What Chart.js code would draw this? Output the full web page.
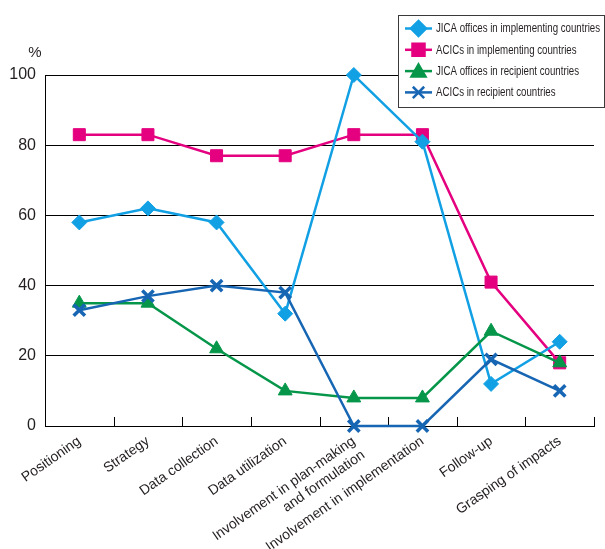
<!DOCTYPE html>
<html>
<head>
<meta charset="utf-8">
<script src="https://cdn.jsdelivr.net/npm/chart.js@4/dist/chart.umd.min.js"></script>
<style>
  html, body { margin: 0; padding: 0; background: #ffffff; }
  #wrap { width: 605px; height: 549px; position: relative; }
</style>
</head>
<body>
<div id="wrap"><canvas id="c" width="605" height="549"></canvas></div>
<script>
// Survey items along the horizontal axis
const categories = [
  'Positioning',
  'Strategy',
  'Data collection',
  'Data utilization',
  ['Involvement in plan-making', 'and formulation'],
  'Involvement in implementation',
  'Follow-up',
  'Grasping of impacts'
];

// Share of respondents (%) per group
const jicaImplementing = [58, 62, 58, 32, 100, 81, 12, 24];
const acicImplementing = [83, 83, 77, 77, 83, 83, 41, 18];
const jicaRecipient    = [35, 35, 22, 10, 8, 8, 27, 18];
const acicRecipient    = [33, 37, 40, 38, 0, 0, 19, 10];

const seriesNames = [
  'JICA offices in implementing countries',
  'ACICs in implementing countries',
  'JICA offices in recipient countries',
  'ACICs in recipient countries'
];

const yTicks = [0, 20, 40, 60, 80, 100];

const TEXT = '#231F20';
const FONT = '"Liberation Sans", Arial, Helvetica, sans-serif';

// Short inward tick marks on the category axis, at the category boundaries
const innerTicks = {
  id: 'innerTicks',
  beforeDatasetsDraw(chart) {
    const xs = chart.scales.x;
    const ctx = chart.ctx;
    const bottom = chart.chartArea.bottom;
    ctx.save();
    ctx.strokeStyle = '#000';
    ctx.lineWidth = 1;
    for (let i = 0; i <= categories.length; i++) {
      const x = Math.round(xs.getPixelForValue(i - 0.5)) + 0.5;
      ctx.beginPath();
      ctx.moveTo(x, bottom);
      ctx.lineTo(x, bottom - 9);
      ctx.stroke();
    }
    ctx.restore();
  }
};

// Unit label above the value axis
const unitLabel = {
  id: 'unitLabel',
  afterDraw(chart) {
    const ctx = chart.ctx;
    const ys = chart.scales.y;
    ctx.save();
    ctx.fillStyle = TEXT;
    ctx.font = '15px ' + FONT;
    ctx.textAlign = 'center';
    ctx.textBaseline = 'middle';
    ctx.fillText('%', ys.right - 10, ys.getPixelForValue(100) - 22);
    ctx.restore();
  }
};

// Boxed legend with line + marker samples, drawn over the plot's top right
const boxLegend = {
  id: 'boxLegend',
  afterDraw(chart) {
    const ctx = chart.ctx;
    const bx = 398.5, by = 15.5, bw = 206, bh = 92;
    ctx.save();
    ctx.fillStyle = '#fff';
    ctx.fillRect(bx, by, bw, bh);
    ctx.strokeStyle = '#3a3a3a';
    ctx.lineWidth = 1;
    ctx.strokeRect(bx, by, bw, bh);
    chart.data.datasets.forEach((ds, i) => {
      const y = 28.5 + i * 21.3;
      ctx.strokeStyle = ds.borderColor;
      ctx.lineWidth = 2.5;
      ctx.beginPath();
      ctx.moveTo(405, y);
      ctx.lineTo(432, y);
      ctx.stroke();
      ctx.fillStyle = ds.pointBackgroundColor;
      ctx.strokeStyle = ds.pointBorderColor;
      Chart.helpers.drawPoint(ctx, {
        pointStyle: ds.pointStyle,
        radius: ds.pointRadius,
        rotation: 0,
        borderWidth: ds.pointBorderWidth
      }, 418.5, y + (ds.pointStyle === 'triangle' ? 1.5 : 0));
      ctx.save();
      ctx.translate(436, y);
      ctx.scale(0.775, 1);
      ctx.fillStyle = TEXT;
      ctx.font = '12.5px ' + FONT;
      ctx.textAlign = 'left';
      ctx.textBaseline = 'middle';
      ctx.fillText(ds.label, 0, 0.5);
      ctx.restore();
    });
    ctx.restore();
  }
};

function series(label, data, color, style, radius, borderWidth, order) {
  return {
    label, data, order,
    borderColor: color,
    backgroundColor: color,
    borderWidth: 2.5,
    pointStyle: style,
    pointRadius: radius,
    pointHoverRadius: radius,
    pointBackgroundColor: color,
    pointBorderColor: color,
    pointBorderWidth: borderWidth,
    tension: 0,
    clip: false
  };
}

new Chart(document.getElementById('c'), {
  type: 'line',
  data: {
    labels: categories,
    datasets: [
      series(seriesNames[0], jicaImplementing, '#12A0E4', 'rectRot', 7.5, 1, 3),
      series(seriesNames[1], acicImplementing, '#E4007F', 'rect', 8.5, 1, 4),
      series(seriesNames[2], jicaRecipient, '#06964A', 'triangle', 8, 1, 2),
      series(seriesNames[3], acicRecipient, '#1766B4', 'crossRot', 8, 3.5, 1)
    ]
  },
  options: {
    responsive: false,
    animation: false,
    devicePixelRatio: 1,
    layout: {
      autoPadding: false,
      padding: { top: 75, right: 11, left: 0, bottom: 0 }
    },
    plugins: {
      legend: { display: false },
      tooltip: { enabled: false }
    },
    scales: {
      x: {
        offset: true,
        grid: { display: false, drawTicks: false },
        border: { display: true, color: '#000', width: 1 },
        ticks: {
          color: TEXT,
          font: { family: FONT, size: 14 },
          minRotation: 35,
          maxRotation: 35,
          autoSkip: false,
          padding: 7
        },
        afterFit(s) { s.height = 123; }
      },
      y: {
        min: 0,
        max: 100,
        afterBuildTicks(s) { s.ticks = yTicks.map(v => ({ value: v })); },
        grid: { color: '#000', lineWidth: 1, drawTicks: false },
        border: { display: true, color: '#000', width: 1 },
        ticks: {
          color: TEXT,
          font: { family: FONT, size: 16 },
          padding: 9
        },
        afterFit(s) { s.width = 45; }
      }
    }
  },
  plugins: [innerTicks, unitLabel, boxLegend]
});
</script>
</body>
</html>
